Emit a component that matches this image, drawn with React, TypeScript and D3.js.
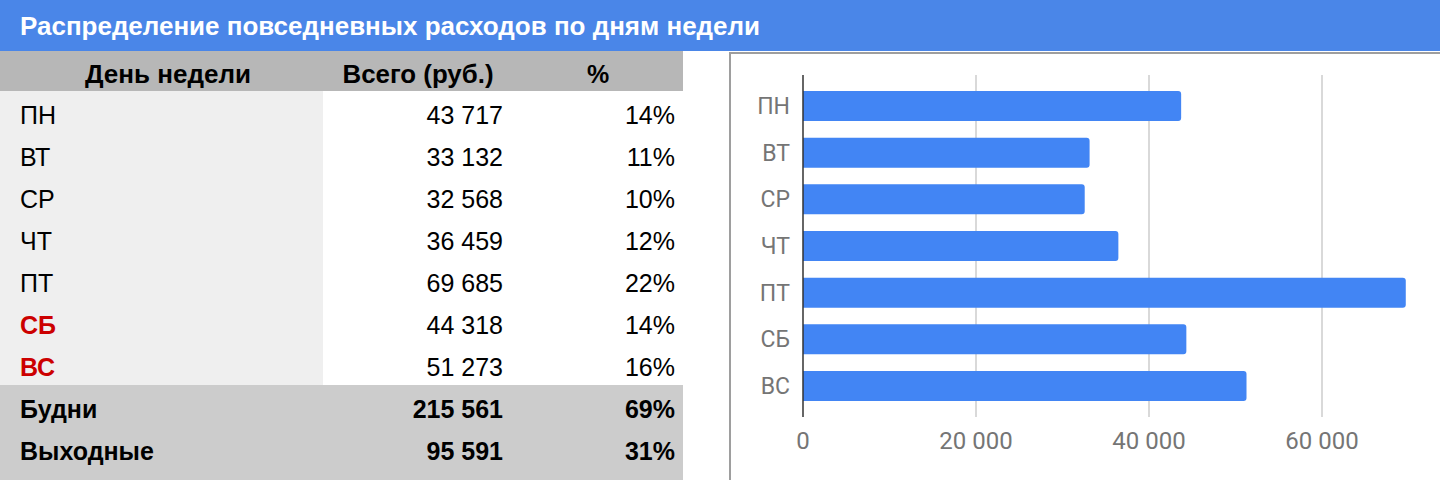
import React from "react";
import * as d3 from "d3";

const title = "Распределение повседневных расходов по дням недели";
const headers = ["День недели", "Всего (руб.)", "%"];
const days = ["ПН", "ВТ", "СР", "ЧТ", "ПТ", "СБ", "ВС"];
const weekendDays = ["СБ", "ВС"];
const totals = [43717, 33132, 32568, 36459, 69685, 44318, 51273];
const percents = ["14%", "11%", "10%", "12%", "22%", "14%", "16%"];
const summaryLabels = ["Будни", "Выходные"];
const summaryTotals = [215561, 95591];
const summaryPercents = ["69%", "31%"];
const xTicks = [0, 20000, 40000, 60000];

const locale = d3.formatLocale({ decimal: ",", thousands: " ", grouping: [3], currency: ["", " руб."] });
const fmt = locale.format(",d");

const W = 1440;
const H = 480;

function roundedRightBar(x0: number, y: number, w: number, h: number, r: number) {
  const rr = Math.min(r, w, h / 2);
  return `M${x0},${y}H${x0 + w - rr}A${rr},${rr} 0 0 1 ${x0 + w},${y + rr}V${y + h - rr}A${rr},${rr} 0 0 1 ${x0 + w - rr},${y + h}H${x0}Z`;
}

export default function App() {
  const titleH = 51;
  const headerTop = 51;
  const rowH = 42;
  const headerBottom = 91;
  const tableRight = 683;
  const col1Right = 323;
  const valRight = 503;
  const pctRight = 675;
  const tableFont = "'Liberation Sans', Arial, Helvetica, sans-serif";
  const chartFont = "Roboto, 'Noto Sans', sans-serif";
  const tfs = 25;
  const baseOff = 33;

  const x = d3.scaleLinear().domain([0, 80000]).range([803, 1495]);
  const y = d3.scaleBand<string>().domain(days).range([75, 417]).paddingInner(0.357).paddingOuter(0.345);

  const rowY = (i: number) => headerBottom + i * rowH;

  return (
    <svg width={W} height={H} style={{ position: "absolute", left: 0, top: 0, background: "#fff" }}>
      {/* title bar */}
      <rect x={0} y={0} width={W} height={titleH} fill="#4a86e8" />
      <text x={20} y={35} fill="#fff" fontFamily={tableFont} fontWeight="bold" fontSize={25}
        textLength={740} lengthAdjust="spacingAndGlyphs">{title}</text>

      {/* table header */}
      <rect x={0} y={headerTop} width={tableRight} height={headerBottom - headerTop} fill="#b7b7b7" />
      <text x={168} y={83} textAnchor="middle" fontFamily={tableFont} fontWeight="bold" fontSize={tfs}
        textLength={166} lengthAdjust="spacingAndGlyphs">{headers[0]}</text>
      <text x={418} y={83} textAnchor="middle" fontFamily={tableFont} fontWeight="bold" fontSize={tfs}
        textLength={151} lengthAdjust="spacingAndGlyphs">{headers[1]}</text>
      <text x={598} y={83} textAnchor="middle" fontFamily={tableFont} fontWeight="bold" fontSize={tfs}>{headers[2]}</text>

      {/* day column background */}
      <rect x={0} y={headerBottom} width={col1Right} height={rowH * days.length} fill="#efefef" />

      {days.map((d, i) => {
        const isWeekend = weekendDays.includes(d);
        const by = rowY(i) + baseOff;
        return (
          <g key={d} fontFamily={tableFont} fontSize={tfs}>
            <text x={20} y={by} fill={isWeekend ? "#cc0000" : "#000"} fontWeight={isWeekend ? "bold" : "normal"}>{d}</text>
            <text x={valRight} y={by} textAnchor="end">{fmt(totals[i])}</text>
            <text x={pctRight} y={by} textAnchor="end">{percents[i]}</text>
          </g>
        );
      })}

      {/* summary */}
      <rect x={0} y={rowY(days.length)} width={tableRight} height={H - rowY(days.length)} fill="#cccccc" />
      {summaryLabels.map((s, j) => {
        const by = rowY(days.length + j) + baseOff;
        return (
          <g key={s} fontFamily={tableFont} fontSize={tfs} fontWeight="bold">
            <text x={20} y={by}>{s}</text>
            <text x={valRight} y={by} textAnchor="end">{fmt(summaryTotals[j])}</text>
            <text x={pctRight} y={by} textAnchor="end">{summaryPercents[j]}</text>
          </g>
        );
      })}

      {/* chart panel border */}
      <line x1={730} x2={730} y1={52} y2={H} stroke="#9e9e9e" strokeWidth={2} />
      <line x1={729} x2={W} y1={53} y2={53} stroke="#9e9e9e" strokeWidth={2} />

      {/* gridlines */}
      {xTicks.filter(t => t !== 0).map(t => (
        <line key={t} x1={x(t)} x2={x(t)} y1={75} y2={417} stroke="#cccccc" strokeWidth={1.5} />
      ))}

      {/* bars */}
      {days.map((d, i) => (
        <path key={d} d={roundedRightBar(x(0), y(d)!, x(totals[i]) - x(0), y.bandwidth(), 3)} fill="#4285f4" />
      ))}

      {/* axis line */}
      <line x1={x(0)} x2={x(0)} y1={75} y2={417} stroke="#333" strokeWidth={1.5} />

      {/* y labels */}
      {days.map(d => (
        <text key={d} x={790} y={y(d)! + y.bandwidth() / 2 + 8} textAnchor="end" fontFamily={chartFont}
          fontSize={23} fill="#757575">{d}</text>
      ))}

      {/* x tick labels */}
      {xTicks.map(t => (
        <text key={t} x={x(t)} y={449} textAnchor="middle" fontFamily={chartFont} fontSize={24} fill="#757575">{fmt(t)}</text>
      ))}
    </svg>
  );
}
